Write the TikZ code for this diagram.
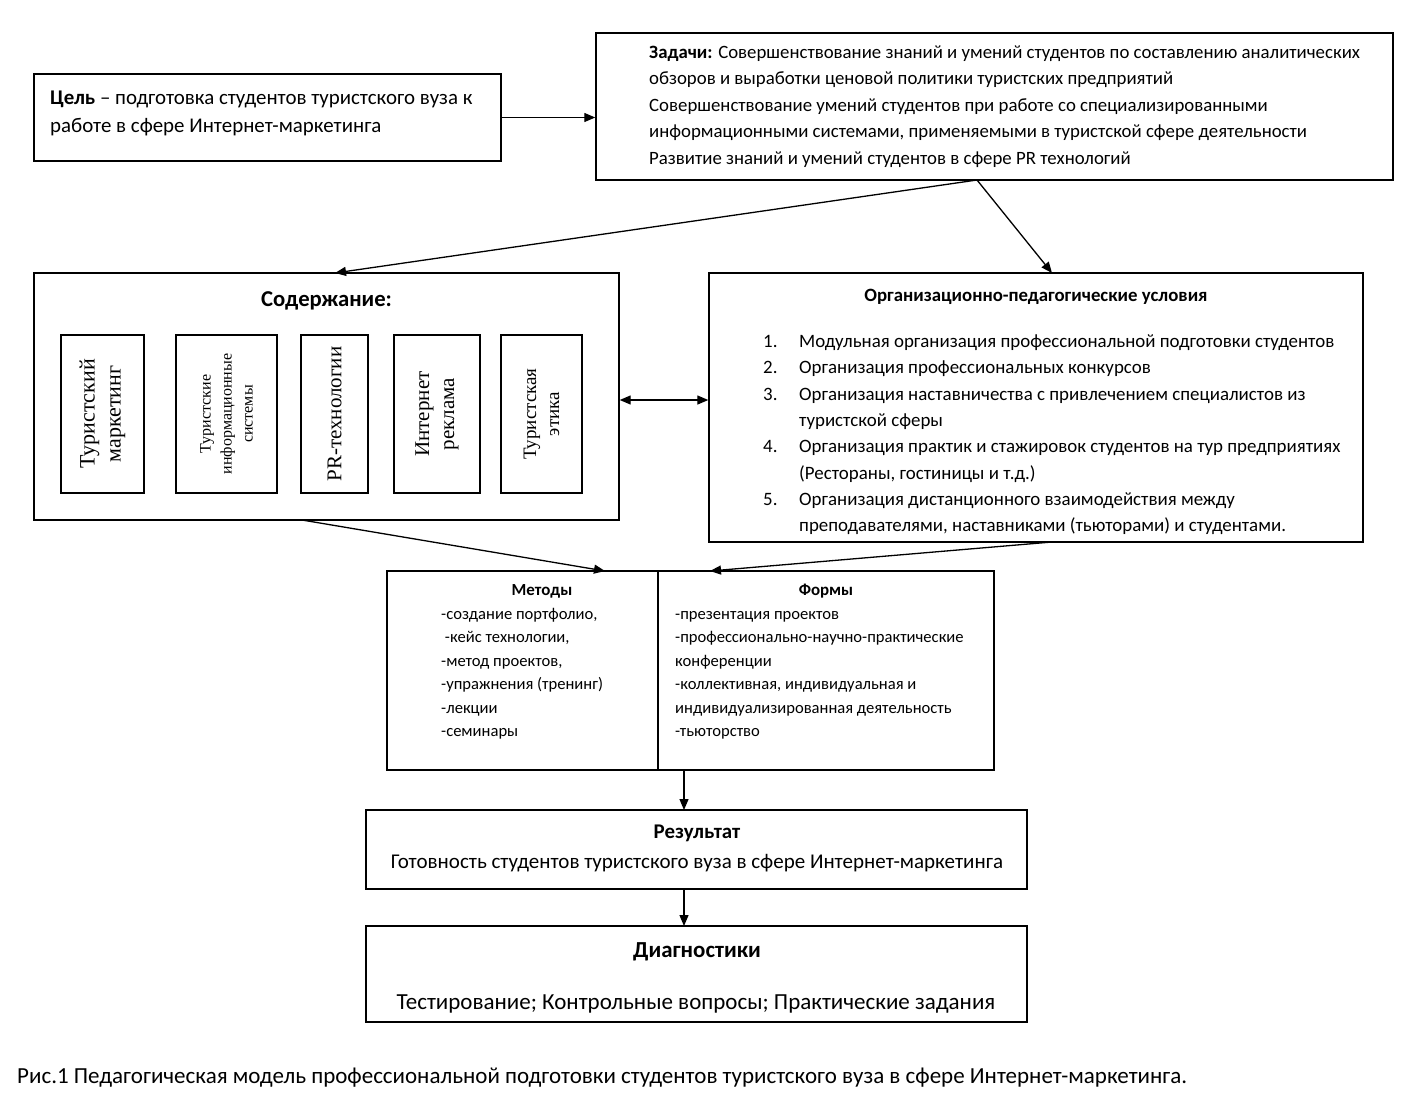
\documentclass[tikz,border=0pt]{standalone}
\usepackage{fontspec}
\setmainfont{Carlito}
\newfontfamily\timesf{Liberation Serif}
\usetikzlibrary{arrows.meta}
\tikzset{
  box/.style={draw, line width=1.4pt, inner sep=0pt, fill=none},
  inbox/.style={draw, line width=1.4pt, inner sep=0pt},
  txt/.style={inner sep=0pt, anchor=base west},
  ctxt/.style={inner sep=0pt, anchor=base},
  vtxt/.style={inner sep=0pt, rotate=90, align=center, font=\timesf},
  arr/.style={line width=1.3pt, -{Triangle[length=11pt,width=9pt]}},
  darr/.style={line width=1.3pt, {Triangle[length=11pt,width=9pt]}-{Triangle[length=11pt,width=9pt]}},
}
\newcommand{\fs}[1]{\fontsize{#1pt}{#1pt}\selectfont}
\begin{document}
\begin{tikzpicture}[x=1pt,y=-1pt]
\useasboundingbox (0,0) rectangle (1418,1119);
% boxes
\node[box, minimum width=467pt, minimum height=87pt] (goal) at (267.5,117.5) {};
\node[box, minimum width=797pt, minimum height=147pt] (tasks) at (994.5,106.5) {};
\node[box, minimum width=585pt, minimum height=247pt] (content) at (326.5,396.5) {};
\node[box, minimum width=654pt, minimum height=269pt] (cond) at (1036,407.5) {};
\node[box, minimum width=271pt, minimum height=199pt] (meth) at (522.5,670.5) {};
\node[box, minimum width=336pt, minimum height=199pt] (forms) at (826,670.5) {};
\node[box, minimum width=661pt, minimum height=79pt] (res) at (696.5,849.5) {};
\node[box, minimum width=661pt, minimum height=96pt] (diag) at (696.5,974) {};
% inner boxes
\node[inbox, minimum width=83pt, minimum height=158pt] (c1) at (102.5,414) {};
\node[inbox, minimum width=101pt, minimum height=158pt] (c2) at (226.5,414) {};
\node[inbox, minimum width=67pt, minimum height=158pt] (c3) at (334.5,414) {};
\node[inbox, minimum width=86pt, minimum height=158pt] (c4) at (437,414) {};
\node[inbox, minimum width=81pt, minimum height=158pt] (c5) at (541.5,414) {};
\node[vtxt, font=\timesf\fontsize{22pt}{26pt}\selectfont] (c1t) at (c1) {Туристский\\маркетинг};
\node[vtxt, font=\timesf\fontsize{16pt}{21pt}\selectfont] (c2t) at (c2) {Туристские\\информационные\\системы};
\node[vtxt, font=\timesf\fontsize{21pt}{24pt}\selectfont] (c3t) at (c3) {PR-технологии};
\node[vtxt, font=\timesf\fontsize{21pt}{25pt}\selectfont] (c4t) at (c4) {Интернет\\реклама};
\node[vtxt, font=\timesf\fontsize{19pt}{23pt}\selectfont] (c5t) at (c5) {Туристская\\этика};
% goal text
\node[txt, font=\fs{20.9}] (g1) at (50,104) {\textbf{Цель} – подготовка студентов туристского вуза к};
\node[txt, font=\fs{20.9}] (g2) at (50,132) {работе в сфере Интернет-маркетинга};
% tasks text
\foreach \t [count=\i from 0] in {{\textbf{Задачи:} Совершенствование знаний и умений студентов по составлению аналитических},
  {обзоров и выработки ценовой политики туристских предприятий},
  {Совершенствование умений студентов при работе со специализированными},
  {информационными системами, применяемыми в туристской сфере деятельности},
  {Развитие знаний и умений студентов в сфере PR технологий}}
  \node[txt, font=\fs{18.8}] (tk\i) at (649,58+26.5*\i) {\t};
% content title
\node[ctxt, font=\bfseries\fs{22.7}] (ct) at (326.5,306) {Содержание:};
% conditions
\node[ctxt, font=\bfseries\fs{18.8}] (cdt) at (1036,301) {Организационно-педагогические условия};
\foreach \t [count=\i from 0] in {{Модульная организация профессиональной подготовки студентов},
  {Организация профессиональных конкурсов},
  {Организация наставничества с привлечением специалистов из},
  {туристской сферы},
  {Организация практик и стажировок студентов на тур предприятиях},
  {(Рестораны, гостиницы и т.д.)},
  {Организация дистанционного взаимодействия между},
  {преподавателями, наставниками (тьюторами) и студентами.}}
  \node[txt, font=\fs{18.9}] (cd\i) at (799,347.5+26.3*\i) {\t};
\foreach \n/\k in {1/0,2/1,3/2,4/4,5/6}
  \node[txt, font=\fs{18.9}] (cn\n) at (763,347.5+26.3*\k) {\n.};
% methods
\node[ctxt, font=\bfseries\fs{16.9}] (mt) at (542,595.5) {Методы};
\foreach \t [count=\i from 0] in {{-создание портфолио,},{\ -кейс технологии,},{-метод проектов,},{-упражнения (тренинг)},{-лекции},{-семинары}}
  \node[txt, font=\fs{16.6}] (m\i) at (441,619.5+23.4*\i) {\t};
% forms
\node[ctxt, font=\bfseries\fs{16.9}] (ft) at (826,595.5) {Формы};
\foreach \t [count=\i from 0] in {{-презентация проектов},{-профессионально-научно-практические},{конференции},{-коллективная, индивидуальная и},{индивидуализированная деятельность},{-тьюторство}}
  \node[txt, font=\fs{16.6}] (f\i) at (675,619.5+23.4*\i) {\t};
% result
\node[ctxt, font=\bfseries\fs{20.9}] (rt) at (697,838) {Результат};
\node[ctxt, font=\fs{21}] (rx) at (697,868) {Готовность студентов туристского вуза в сфере Интернет-маркетинга};
% diag
\node[ctxt, font=\bfseries\fs{22.9}] (dt) at (697,957) {Диагностики};
\node[ctxt, font=\fs{23}] (dx) at (696,1009) {Тестирование; Контрольные вопросы; Практические задания};
% caption
\node[txt, font=\fs{23}] (cap) at (17,1083) {Рис.1 Педагогическая модель профессиональной подготовки студентов туристского вуза в сфере Интернет-маркетинга.};
% connectors
\coordinate (tb) at (977,180);
\draw[arr] (goal.east) -- (goal.east -| tasks.west);
\draw[arr] (tb) -- (335,273);
\draw[arr] (tb) -- (1052,273);
\draw[darr] (content.east |- 0,400) -- (cond.west |- 0,400);
\draw[arr] (302,520) -- (605,571);
\draw[arr] (1052,542) -- (710,571);
\draw[arr] (684,770) -- (684,810);
\draw[arr] (684,889) -- (684,926);
\end{tikzpicture}
\end{document}
